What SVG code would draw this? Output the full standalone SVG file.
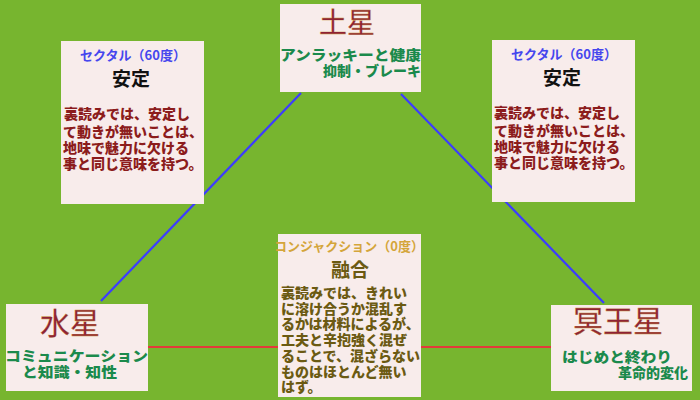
<svg xmlns="http://www.w3.org/2000/svg" width="700" height="400" viewBox="0 0 700 400">
<style>
.box{fill:#f8eceb}
.t{font-family:"Noto Sans CJK JP","Noto Sans CJK SC",sans-serif;font-weight:900}
.planet{font-family:"Noto Sans CJK JP",sans-serif;font-size:30px;fill:#8e2236;stroke:#c89a3a;stroke-width:0.3}
.grn{fill:#1b8a4c;font-size:14px}
.blue{fill:#4646ee;font-size:13px;font-weight:bold}
.gold{fill:#d4a53a;font-size:13px;font-weight:bold}
.head{fill:#111;font-size:19px;font-weight:bold}
.red{fill:#8c1c1c;font-size:14px}
.olv{fill:#6b5a12;font-size:14px}
.cb{stroke:#3c3cff;stroke-width:2.2;fill:none}
.cr{stroke:#e23a3a;stroke-width:2.2;fill:none}
</style>
<rect width="700" height="400" fill="#77b52f"/>
<g id="connectors">
<line class="cb" x1="301" y1="93" x2="101" y2="301"/>
<line class="cb" x1="401" y1="94" x2="604" y2="303"/>
<line class="cr" x1="148" y1="347" x2="551" y2="347"/>
</g>
<g id="saturn">
<rect class="box" x="280" y="4" width="141" height="88"/>
<text class="planet" x="347" y="33" text-anchor="middle" style="font-size:28px">土星</text>
<text class="t grn" x="280" y="60" textLength="141" lengthAdjust="spacingAndGlyphs">アンラッキーと健康</text>
<text class="t grn" x="421" y="76" text-anchor="end">抑制・ブレーキ</text>
</g>
<g id="sextile-left">
<rect class="box" x="61" y="41" width="143" height="163"/>
<text class="t blue" x="133" y="60" text-anchor="middle">セクタル（60度）</text>
<text class="t head" x="131" y="86" text-anchor="middle">安定</text>
<text class="t red" x="64" y="119">裏読みでは、安定し</text>
<text class="t red" x="63" y="137">て動きが無いことは、</text>
<text class="t red" x="63" y="153">地味で魅力に欠ける</text>
<text class="t red" x="63" y="169">事と同じ意味を持つ。</text>
</g>
<g id="sextile-right">
<rect class="box" x="492" y="40" width="143" height="162"/>
<text class="t blue" x="564" y="59" text-anchor="middle">セクタル（60度）</text>
<text class="t head" x="562" y="85" text-anchor="middle">安定</text>
<text class="t red" x="494" y="118">裏読みでは、安定し</text>
<text class="t red" x="494" y="136">て動きが無いことは、</text>
<text class="t red" x="494" y="152">地味で魅力に欠ける</text>
<text class="t red" x="494" y="168">事と同じ意味を持つ。</text>
</g>
<g id="conjunction">
<rect class="box" x="278" y="234" width="143" height="163"/>
<text class="t gold" x="349" y="251" text-anchor="middle">コンジャクション（0度）</text>
<text class="t head" x="350" y="277" text-anchor="middle" style="fill:#6b5a12">融合</text>
<text class="t olv" x="281" y="298">裏読みでは、きれい</text>
<text class="t olv" x="281" y="314">に溶け合うか混乱す</text>
<text class="t olv" x="281" y="329">るかは材料によるが、</text>
<text class="t olv" x="281" y="345">工夫と辛抱強く混ぜ</text>
<text class="t olv" x="281" y="361">ることで、混ざらない</text>
<text class="t olv" x="281" y="377">ものはほとんど無い</text>
<text class="t olv" x="281" y="392">はず。</text>
</g>
<g id="mercury">
<rect class="box" x="6" y="304" width="142" height="87"/>
<text class="planet" x="70" y="334" text-anchor="middle">水星</text>
<text class="t grn" x="5" y="361" textLength="143" lengthAdjust="spacingAndGlyphs">コミュニケーション</text>
<text class="t grn" x="22" y="377" textLength="95" lengthAdjust="spacingAndGlyphs">と知識・知性</text>
</g>
<g id="pluto">
<rect class="box" x="551" y="305" width="141" height="86"/>
<text class="planet" x="618" y="332" text-anchor="middle">冥王星</text>
<text class="t grn" x="562" y="362" textLength="110" lengthAdjust="spacingAndGlyphs">はじめと終わり</text>
<text class="t grn" x="688" y="378" text-anchor="end">革命的変化</text>
</g>
</svg>
